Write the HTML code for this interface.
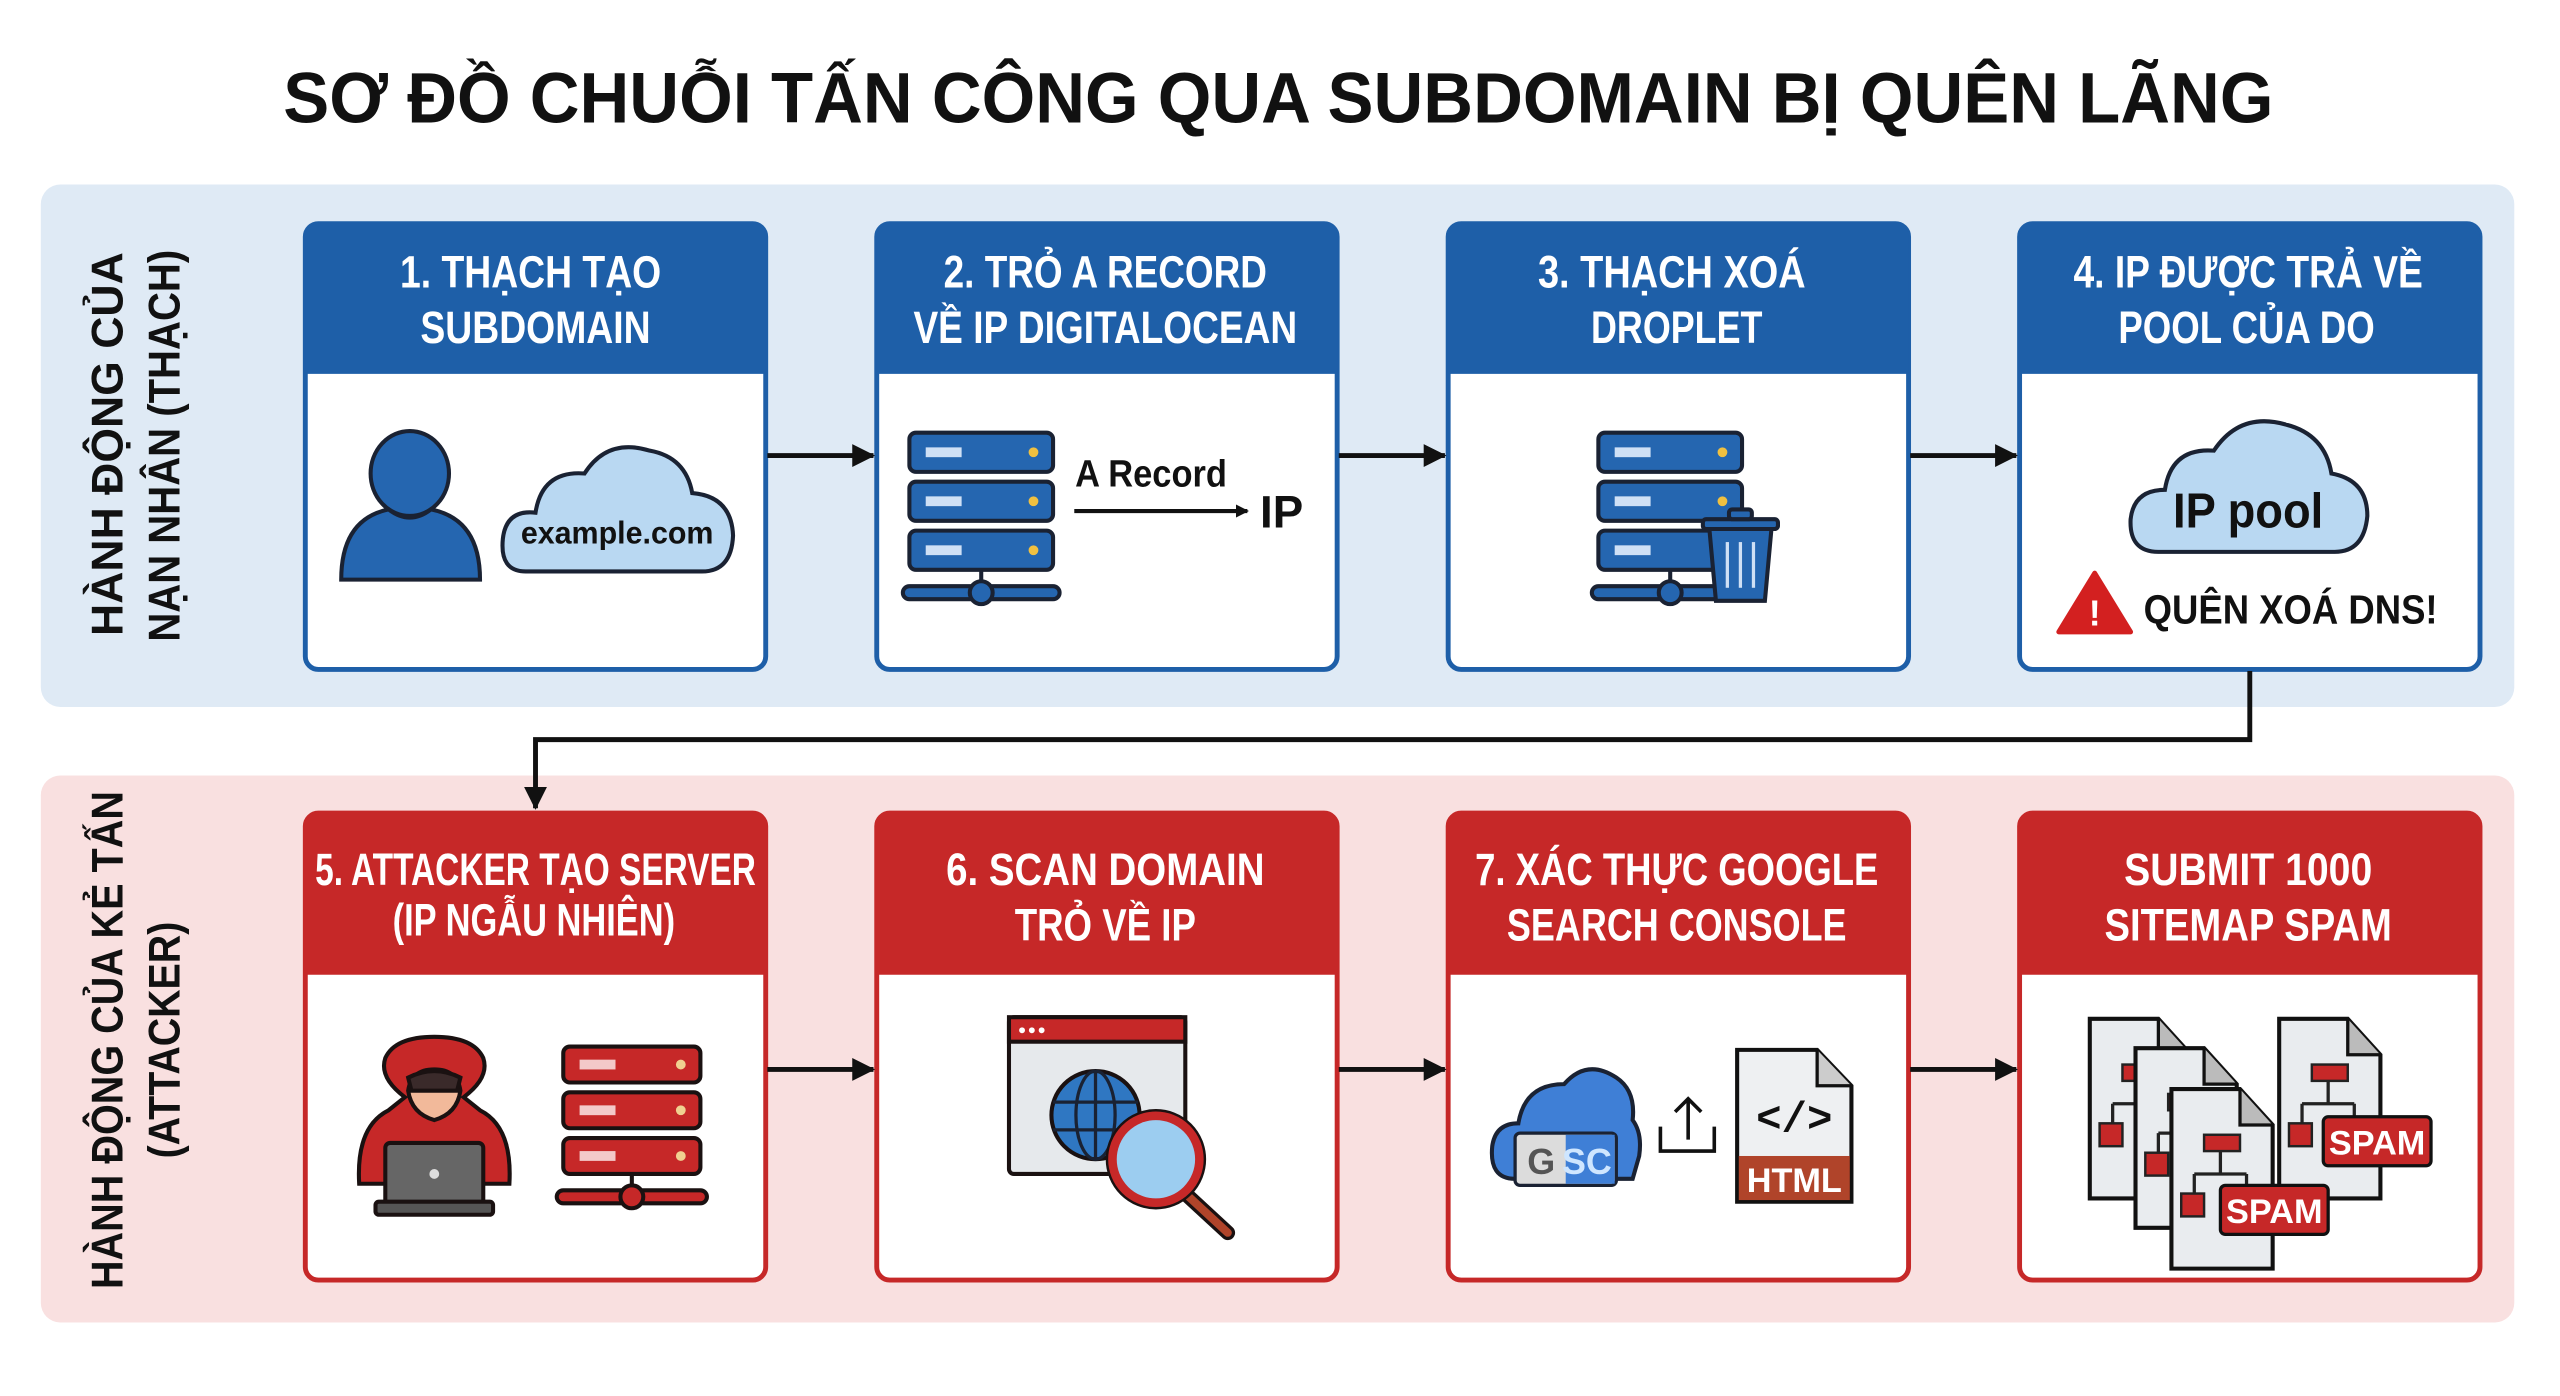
<!DOCTYPE html>
<html><head><meta charset="utf-8"><style>
html,body{margin:0;padding:0;background:#fff;}
svg{display:block;}
text{font-family:"Liberation Sans Narrow","Liberation Sans",sans-serif;font-weight:bold;}
</style></head><body>
<svg width="2560" height="1396" viewBox="0 0 1568 855" preserveAspectRatio="none" xmlns="http://www.w3.org/2000/svg">
<defs>
<marker id="ah" markerWidth="8" markerHeight="8" refX="7" refY="4" orient="auto" markerUnits="userSpaceOnUse"><path d="M0,0 L8,4 L0,8 Z" fill="#111"/></marker>
<marker id="ah2" markerWidth="14" markerHeight="14" refX="13" refY="7" orient="auto" markerUnits="userSpaceOnUse"><path d="M0,0 L14,7 L0,14 Z" fill="#111"/></marker>
<g id="srvB">
 <g stroke="#1a2233" stroke-width="2.5">
  <rect x="0" y="0" width="88" height="24" rx="4" fill="#2566b0"/>
  <rect x="0" y="30" width="88" height="24" rx="4" fill="#2566b0"/>
  <rect x="0" y="60" width="88" height="24" rx="4" fill="#2566b0"/>
  <line x1="44" y1="84" x2="44" y2="98"/>
  <rect x="-4" y="94" width="96" height="8" rx="4" fill="#2566b0"/>
  <circle cx="44" cy="98" r="7" fill="#2566b0"/>
 </g>
 <g fill="#cfe0f5"><rect x="10" y="9" width="22" height="6"/><rect x="10" y="39" width="22" height="6"/><rect x="10" y="69" width="22" height="6"/></g>
 <g fill="#f0c040"><circle cx="76" cy="12" r="3"/><circle cx="76" cy="42" r="3"/><circle cx="76" cy="72" r="3"/></g>
</g>
<g id="srvR">
 <g stroke="#1a1111" stroke-width="2.5">
  <rect x="0" y="0" width="84" height="22" rx="4" fill="#c62828"/>
  <rect x="0" y="28" width="84" height="22" rx="4" fill="#c62828"/>
  <rect x="0" y="56" width="84" height="22" rx="4" fill="#c62828"/>
  <line x1="42" y1="78" x2="42" y2="92"/>
  <rect x="-4" y="88" width="92" height="8" rx="4" fill="#c62828"/>
  <circle cx="42" cy="92" r="7" fill="#c62828"/>
 </g>
 <g fill="#f3c9c9"><rect x="10" y="8" width="22" height="6"/><rect x="10" y="36" width="22" height="6"/><rect x="10" y="64" width="22" height="6"/></g>
 <g fill="#f0d090"><circle cx="72" cy="11" r="3"/><circle cx="72" cy="39" r="3"/><circle cx="72" cy="67" r="3"/></g>
</g>
<g id="doc">
 <path d="M0,0 H42 L62,22 V110 H0 Z" fill="#e9ecef" stroke="#111" stroke-width="2.5"/>
 <path d="M42,0 V22 H62" fill="#bbb" stroke="#111" stroke-width="2"/>
 <g stroke="#222" stroke-width="2" fill="none"><path d="M30,36 V52 M14,52 H46 M14,52 V66 M46,52 V66"/></g>
 <g fill="#c62828" stroke="#222" stroke-width="1.5"><rect x="20" y="28" width="22" height="10"/><rect x="6" y="64" width="14" height="14"/><rect x="38" y="64" width="14" height="14"/></g>
</g>
</defs>

<!-- title -->
<text x="783" y="75" text-anchor="middle" font-size="44" fill="#111" textLength="1219" lengthAdjust="spacingAndGlyphs" style="font-family:'Liberation Sans',sans-serif">SƠ ĐỒ CHUỖI TẤN CÔNG QUA SUBDOMAIN BỊ QUÊN LÃNG</text>

<!-- lanes -->
<rect x="25" y="113" width="1515" height="320" rx="12" fill="#dfeaf5"/>
<rect x="25" y="475" width="1515" height="335" rx="12" fill="#f9e0e0"/>

<g fill="#111" font-size="27" style="font-family:'Liberation Sans',sans-serif">
 <text transform="translate(75,272) rotate(-90)" text-anchor="middle" textLength="235" lengthAdjust="spacingAndGlyphs">HÀNH ĐỘNG CỦA</text>
 <text transform="translate(110,273) rotate(-90)" text-anchor="middle" textLength="240" lengthAdjust="spacingAndGlyphs">NẠN NHÂN (THẠCH)</text>
 <text transform="translate(75,637) rotate(-90)" text-anchor="middle" textLength="305" lengthAdjust="spacingAndGlyphs">HÀNH ĐỘNG CỦA KẺ TẤN</text>
 <text transform="translate(110,637) rotate(-90)" text-anchor="middle" textLength="145" lengthAdjust="spacingAndGlyphs">(ATTACKER)</text>
</g>

<!-- top cards -->
<g stroke="#1e5fa8" stroke-width="3">
 <rect x="187" y="137" width="282" height="273" rx="8" fill="#fff"/>
 <rect x="537" y="137" width="282" height="273" rx="8" fill="#fff"/>
 <rect x="887" y="137" width="282" height="273" rx="8" fill="#fff"/>
 <rect x="1237" y="137" width="282" height="273" rx="8" fill="#fff"/>
</g>
<g fill="#1e5fa8">
 <path d="M187,145 a8,8 0 0 1 8,-8 H461 a8,8 0 0 1 8,8 V229 H187Z"/>
 <path d="M537,145 a8,8 0 0 1 8,-8 H811 a8,8 0 0 1 8,8 V229 H537Z"/>
 <path d="M887,145 a8,8 0 0 1 8,-8 H1161 a8,8 0 0 1 8,8 V229 H887Z"/>
 <path d="M1237,145 a8,8 0 0 1 8,-8 H1511 a8,8 0 0 1 8,8 V229 H1237Z"/>
</g>
<!-- bottom cards -->
<g stroke="#c62828" stroke-width="3">
 <rect x="187" y="498" width="282" height="286" rx="8" fill="#fff"/>
 <rect x="537" y="498" width="282" height="286" rx="8" fill="#fff"/>
 <rect x="887" y="498" width="282" height="286" rx="8" fill="#fff"/>
 <rect x="1237" y="498" width="282" height="286" rx="8" fill="#fff"/>
</g>
<g fill="#c62828">
 <path d="M187,506 a8,8 0 0 1 8,-8 H461 a8,8 0 0 1 8,8 V597 H187Z"/>
 <path d="M537,506 a8,8 0 0 1 8,-8 H811 a8,8 0 0 1 8,8 V597 H537Z"/>
 <path d="M887,506 a8,8 0 0 1 8,-8 H1161 a8,8 0 0 1 8,8 V597 H887Z"/>
 <path d="M1237,506 a8,8 0 0 1 8,-8 H1511 a8,8 0 0 1 8,8 V597 H1237Z"/>
</g>

<!-- header texts -->
<g fill="#fff" font-size="28" text-anchor="middle">
 <text x="325" y="176" textLength="160" lengthAdjust="spacingAndGlyphs">1. THẠCH TẠO</text>
 <text x="328" y="210" textLength="141" lengthAdjust="spacingAndGlyphs">SUBDOMAIN</text>
 <text x="677" y="176" textLength="198" lengthAdjust="spacingAndGlyphs">2. TRỎ A RECORD</text>
 <text x="677" y="210" textLength="235" lengthAdjust="spacingAndGlyphs">VỀ IP DIGITALOCEAN</text>
 <text x="1024" y="176" textLength="164" lengthAdjust="spacingAndGlyphs">3. THẠCH XOÁ</text>
 <text x="1027" y="210" textLength="105" lengthAdjust="spacingAndGlyphs">DROPLET</text>
 <text x="1377" y="176" textLength="214" lengthAdjust="spacingAndGlyphs">4. IP ĐƯỢC TRẢ VỀ</text>
 <text x="1376" y="210" textLength="157" lengthAdjust="spacingAndGlyphs">POOL CỦA DO</text>
 <text x="328" y="542" textLength="270" lengthAdjust="spacingAndGlyphs">5. ATTACKER TẠO SERVER</text>
 <text x="327" y="573" textLength="173" lengthAdjust="spacingAndGlyphs">(IP NGẪU NHIÊN)</text>
 <text x="677" y="542" textLength="195" lengthAdjust="spacingAndGlyphs">6. SCAN DOMAIN</text>
 <text x="677" y="576" textLength="111" lengthAdjust="spacingAndGlyphs">TRỎ VỀ IP</text>
 <text x="1027" y="542" textLength="247" lengthAdjust="spacingAndGlyphs">7. XÁC THỰC GOOGLE</text>
 <text x="1027" y="576" textLength="208" lengthAdjust="spacingAndGlyphs">SEARCH CONSOLE</text>
 <text x="1377" y="542" textLength="152" lengthAdjust="spacingAndGlyphs">SUBMIT 1000</text>
 <text x="1377" y="576" textLength="176" lengthAdjust="spacingAndGlyphs">SITEMAP SPAM</text>
</g>

<!-- arrows -->
<g stroke="#111" stroke-width="3" fill="none">
 <line x1="470" y1="279" x2="535" y2="279" marker-end="url(#ah2)"/>
 <line x1="820" y1="279" x2="885" y2="279" marker-end="url(#ah2)"/>
 <line x1="1170" y1="279" x2="1235" y2="279" marker-end="url(#ah2)"/>
 <line x1="470" y1="655" x2="535" y2="655" marker-end="url(#ah2)"/>
 <line x1="820" y1="655" x2="885" y2="655" marker-end="url(#ah2)"/>
 <line x1="1170" y1="655" x2="1235" y2="655" marker-end="url(#ah2)"/>
 <path d="M1378,411 V453 H328 V495" marker-end="url(#ah2)"/>
</g>

<!-- card1: person + cloud -->
<g stroke="#1a2233" stroke-width="2.5">
 <ellipse cx="251" cy="290" rx="24" ry="26" fill="#2566b0"/>
 <path d="M209,355 Q209,318 238,312 Q251,322 264,312 Q294,318 294,355 Z" fill="#2566b0"/>
 <path d="M322,350 Q306,350 308,330 Q310,312 328,314 Q332,288 358,290 Q372,268 398,276 Q420,280 424,302 Q448,304 449,328 Q448,350 430,350 Z" fill="#b9d8f2"/>
</g>
<text x="378" y="333" text-anchor="middle" font-size="19" fill="#111" textLength="118" lengthAdjust="spacingAndGlyphs" style="font-family:'Liberation Sans',sans-serif">example.com</text>

<!-- card2 -->
<use href="#srvB" x="557" y="265"/>
<text x="705" y="298" text-anchor="middle" font-size="23" fill="#111" textLength="93" lengthAdjust="spacingAndGlyphs" style="font-family:'Liberation Sans',sans-serif">A Record</text>
<line x1="658" y1="313" x2="764" y2="313" stroke="#111" stroke-width="2.5" marker-end="url(#ah)"/>
<text x="785" y="323" text-anchor="middle" font-size="28" fill="#111" style="font-family:'Liberation Sans',sans-serif">IP</text>

<!-- card3 -->
<use href="#srvB" x="979" y="265"/>
<g stroke="#1a2233" stroke-width="2.5" fill="#2566b0">
 <rect x="1043" y="318" width="46" height="6" rx="2"/>
 <rect x="1059" y="312" width="14" height="6" rx="2"/>
 <path d="M1047,324 H1085 L1081,368 H1051 Z"/>
</g>
<g stroke="#cfe0f5" stroke-width="2"><line x1="1058" y1="332" x2="1058" y2="360"/><line x1="1066" y1="332" x2="1066" y2="360"/><line x1="1074" y1="332" x2="1074" y2="360"/></g>

<!-- card4 -->
<path d="M1322,338 Q1304,338 1305,318 Q1307,300 1326,300 Q1330,274 1356,276 Q1372,252 1400,260 Q1424,266 1428,290 Q1450,294 1450,316 Q1448,338 1430,338 Z" fill="#b9d8f2" stroke="#1a2233" stroke-width="2.5"/>
<text x="1377" y="323" text-anchor="middle" font-size="30" fill="#111" textLength="92" lengthAdjust="spacingAndGlyphs" style="font-family:'Liberation Sans',sans-serif">IP pool</text>
<path d="M1283,351 L1305,387 H1261 Z" fill="#d32020" stroke="#d32020" stroke-width="3" stroke-linejoin="round"/>
<text x="1283" y="383" text-anchor="middle" font-size="22" fill="#fff" style="font-family:'Liberation Sans',sans-serif">!</text>
<text x="1403" y="382" text-anchor="middle" font-size="25" fill="#111" textLength="180" lengthAdjust="spacingAndGlyphs">QUÊN XOÁ DNS!</text>

<!-- card5: hacker -->
<g stroke="#1a1111" stroke-width="2.5">
 <path d="M220,725 Q218,690 238,680 L248,672 Q232,660 236,648 Q242,635 266,635 Q290,635 296,648 Q300,660 284,672 L294,680 Q314,690 312,725 Z" fill="#c62828"/>
 <path d="M250,668 Q252,655 266,655 Q280,655 282,668 Q280,682 266,686 Q252,682 250,668 Z" fill="#f2b99a"/>
 <path d="M250,660 Q266,652 282,660 L280,668 H252 Z" fill="#3a2a2a"/>
 <rect x="236" y="700" width="60" height="38" rx="3" fill="#666"/>
 <rect x="230" y="736" width="72" height="8" rx="2" fill="#555"/>
</g>
<circle cx="266" cy="719" r="3" fill="#ddd"/>
<use href="#srvR" x="345" y="641"/>

<!-- card6: browser + globe + magnifier -->
<g stroke="#1a1111" stroke-width="2.5">
 <rect x="618" y="623" width="108" height="96" rx="3" fill="#e6e9ec"/>
 <rect x="618" y="623" width="108" height="15" fill="#c62828"/>
 <circle cx="671" cy="683" r="27" fill="#2f77c2"/>
</g>
<g stroke="#1a2233" stroke-width="2" fill="none">
 <ellipse cx="671" cy="683" rx="12" ry="27"/><line x1="671" y1="656" x2="671" y2="710"/>
 <line x1="645" y1="675" x2="697" y2="675"/><line x1="645" y1="692" x2="697" y2="692"/>
</g>
<g fill="#fff"><circle cx="626" cy="631" r="1.8"/><circle cx="632" cy="631" r="1.8"/><circle cx="638" cy="631" r="1.8"/></g>
<line x1="726" y1="731" x2="752" y2="755" stroke="#1a1111" stroke-width="9" stroke-linecap="round"/>
<line x1="726" y1="731" x2="752" y2="755" stroke="#b0442a" stroke-width="5" stroke-linecap="round"/>
<circle cx="708" cy="710" r="27" fill="#9ccdf0" stroke="#c62828" stroke-width="6"/>
<circle cx="708" cy="710" r="30" fill="none" stroke="#1a1111" stroke-width="1.5"/>

<!-- card7 -->
<path d="M928,722 Q912,722 914,702 Q916,688 930,688 Q934,664 958,664 Q972,648 990,660 Q1002,668 1000,686 Q1006,694 1004,708 L1000,722 Z" fill="#3f7fd6" stroke="#1a2233" stroke-width="2.5"/>
<rect x="928" y="694" width="62" height="32" rx="3" fill="#dcdcdc" stroke="#1a2233" stroke-width="2"/>
<rect x="959" y="695" width="30" height="30" fill="#3f7fd6"/>
<text x="944" y="719" text-anchor="middle" font-size="22" fill="#555" style="font-family:'Liberation Sans',sans-serif">G</text>
<text x="972" y="719" text-anchor="middle" font-size="22" fill="#cfe6ff" font-weight="normal" style="font-family:'Liberation Sans',sans-serif">SC</text>
<g stroke="#111" stroke-width="2.2" fill="none"><path d="M1017,690 V705 H1050 V690"/><path d="M1034,698 V673 M1026,681 L1034,673 L1042,681"/></g>
<path d="M1064,643 H1113 L1134,665 V736 H1064 Z" fill="#eef0f2" stroke="#111" stroke-width="2.5"/>
<path d="M1113,643 V665 H1134" fill="#ccc" stroke="#111" stroke-width="2"/>
<rect x="1065" y="708" width="68" height="27" fill="#b0442a"/>
<text x="1099" y="730" text-anchor="middle" font-size="21" fill="#fff">HTML</text>
<text x="1099" y="693" text-anchor="middle" font-size="26" fill="#111" font-weight="normal" style="font-family:'Liberation Mono',monospace">&lt;/&gt;</text>

<!-- card8 -->
<use href="#doc" x="1280" y="624"/>
<use href="#doc" x="1308" y="642"/>
<use href="#doc" x="1396" y="624"/>
<use href="#doc" x="1330" y="667"/>
<rect x="1423" y="684" width="66" height="30" rx="3" fill="#c62828" stroke="#111" stroke-width="2"/>
<text x="1456" y="707" text-anchor="middle" font-size="21" fill="#fff">SPAM</text>
<rect x="1360" y="726" width="66" height="30" rx="3" fill="#c62828" stroke="#111" stroke-width="2"/>
<text x="1393" y="749" text-anchor="middle" font-size="21" fill="#fff">SPAM</text>
</svg>
</body></html>
